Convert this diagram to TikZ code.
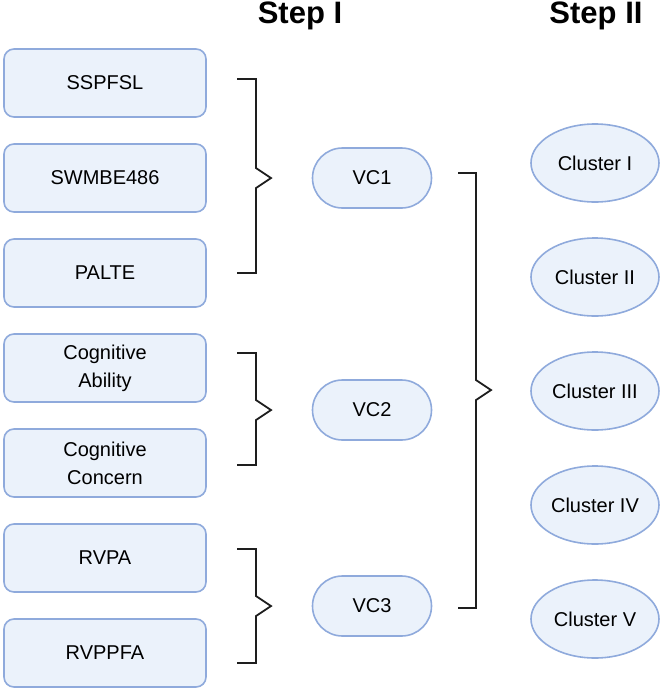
\documentclass[tikz,border=0pt]{standalone}
\usepackage{fontspec}
\setmainfont{Liberation Sans}
\usetikzlibrary{shapes.geometric,shapes.misc}
\definecolor{boxfill}{HTML}{EBF2FB}
\definecolor{boxline}{HTML}{8FAADC}
\definecolor{brc}{HTML}{1E1E1E}
\begin{document}
\begin{tikzpicture}[x=1pt,y=-1pt,
  itembox/.style={draw=boxline,fill=boxfill,line width=1.6pt,rounded corners=10pt,
    minimum width=202pt,minimum height=68pt,inner sep=0pt,align=center,
    font=\fontsize{20}{28}\selectfont},
  vcbox/.style={draw=boxline,fill=boxfill,line width=1.6pt,rounded rectangle,
    minimum width=119pt,minimum height=60pt,inner sep=0pt,
    font=\fontsize{20}{24}\selectfont},
  clbox/.style={draw=boxline,fill=boxfill,line width=1.6pt,ellipse,
    minimum width=128pt,minimum height=78pt,inner sep=0pt,
    font=\fontsize{20}{24}\selectfont},
  header/.style={font=\fontsize{31}{34}\selectfont\bfseries},
  bracket/.style={draw=brc,line width=1.8pt}]
\useasboundingbox (0,0) rectangle (661,691);

\node[header] (h1) at (300,16) {Step I};
\node[header] (h2) at (596,16) {Step II};

\node[itembox] (a1) at (105,83) {SSPFSL};
\node[itembox] (a2) at (105,178) {SWMBE486};
\node[itembox] (a3) at (105,273) {PALTE};
\node[itembox] (a4) at (105,368) {Cognitive\\Ability};
\node[itembox] (a5) at (105,463) {Cognitive\\Concern};
\node[itembox] (a6) at (105,558) {RVPA};
\node[itembox] (a7) at (105,653) {RVPPFA};

\node[vcbox] (v1) at (372,178) {VC1};
\node[vcbox] (v2) at (372,410) {VC2};
\node[vcbox] (v3) at (372,606) {VC3};

\node[clbox] (c1) at (595,163) {Cluster I};
\node[clbox] (c2) at (595,277) {Cluster II};
\node[clbox] (c3) at (595,391) {Cluster III};
\node[clbox] (c4) at (595,505) {Cluster IV};
\node[clbox] (c5) at (595,619) {Cluster V};

% braces, step I
\draw[bracket] (237,79) -- (256,79) -- (256,168) -- (271,178) -- (256,188) -- (256,273) -- (237,273);
\draw[bracket] (237,353) -- (256,353) -- (256,400) -- (271,410) -- (256,420) -- (256,465) -- (237,465);
\draw[bracket] (237,549) -- (256,549) -- (256,596) -- (271,606) -- (256,616) -- (256,663) -- (237,663);
% brace, step II
\draw[bracket] (458,173) -- (476,173) -- (476,380) -- (491,390) -- (476,400) -- (476,608) -- (458,608);
\end{tikzpicture}
\end{document}
